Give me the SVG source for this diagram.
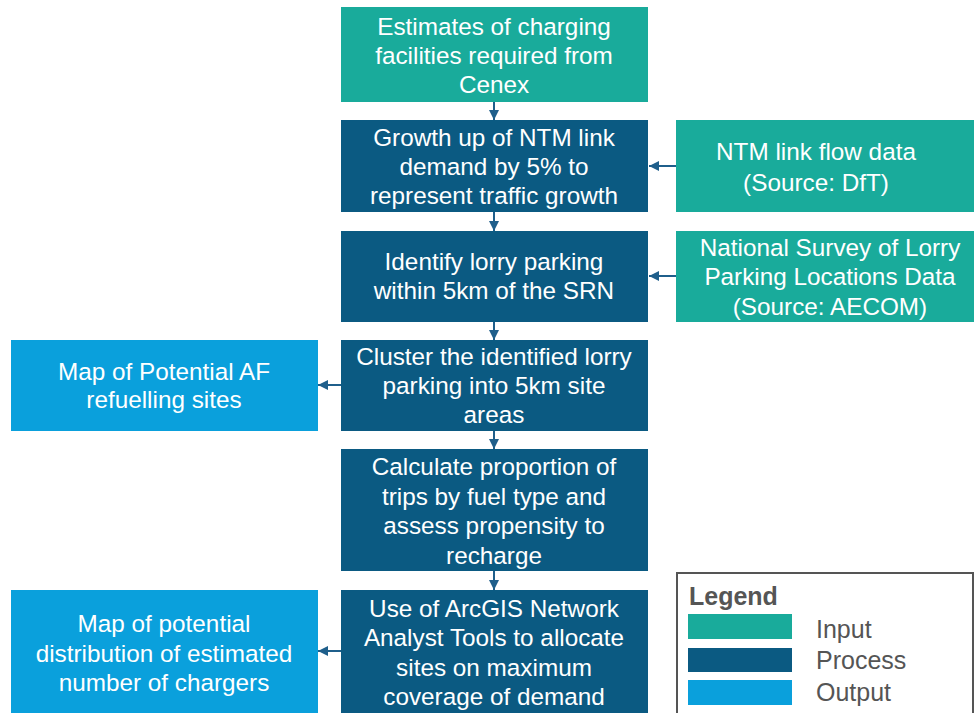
<svg xmlns="http://www.w3.org/2000/svg" width="974" height="713" viewBox="0 0 974 713">
<defs>
<style>
.in{fill:#19ab9b}
.pr{fill:#0b5a82}
.out{fill:#0aa0dc}
.t{font-family:"Liberation Sans",Arial,sans-serif;font-size:24.3px;fill:#ffffff;text-anchor:middle}
.c{stroke:#1f5f8b;stroke-width:2;fill:none;marker-end:url(#ah)}
.lt{font-family:"Liberation Sans",Arial,sans-serif;font-size:25px;fill:#555555}
</style>
<marker id="ah" viewBox="0 0 10 10" refX="10" refY="5" markerWidth="5" markerHeight="5" orient="auto" markerUnits="strokeWidth">
<path d="M0,0 L10,5 L0,10 z" fill="#1f5f8b"/>
</marker>
</defs>
<rect width="974" height="713" fill="#ffffff"/>
<g id="connectors">
<line class="c" x1="494" y1="102" x2="494" y2="120"/>
<line class="c" x1="494" y1="212" x2="494" y2="231"/>
<line class="c" x1="494" y1="322" x2="494" y2="340"/>
<line class="c" x1="494" y1="431" x2="494" y2="449"/>
<line class="c" x1="494" y1="571" x2="494" y2="590"/>
<line class="c" x1="676" y1="166" x2="649" y2="166"/>
<line class="c" x1="676" y1="276" x2="649" y2="276"/>
<line class="c" x1="341" y1="385" x2="318" y2="385"/>
<line class="c" x1="341" y1="651" x2="318" y2="651"/>
</g>
<g id="n1"><rect class="in" x="341" y="7" width="307" height="95"/>
<text class="t" x="494" y="35">Estimates of charging</text><text class="t" x="494" y="64">facilities required from</text><text class="t" x="494" y="93">Cenex</text></g>
<g id="n2"><rect class="pr" x="341" y="120" width="307" height="92"/>
<text class="t" x="494" y="146">Growth up of NTM link</text><text class="t" x="494" y="175">demand by 5% to</text><text class="t" x="494" y="204">represent traffic growth</text></g>
<g id="n3"><rect class="pr" x="341" y="231" width="307" height="91"/>
<text class="t" x="494" y="270">Identify lorry parking</text><text class="t" x="494" y="299">within 5km of the SRN</text></g>
<g id="n4"><rect class="pr" x="341" y="340" width="307" height="91"/>
<text class="t" x="494" y="365">Cluster the identified lorry</text><text class="t" x="494" y="394">parking into 5km site</text><text class="t" x="494" y="423">areas</text></g>
<g id="n5"><rect class="pr" x="341" y="449" width="307" height="122"/>
<text class="t" x="494" y="475">Calculate proportion of</text><text class="t" x="494" y="505">trips by fuel type and</text><text class="t" x="494" y="534">assess propensity to</text><text class="t" x="494" y="564">recharge</text></g>
<g id="n6"><rect class="pr" x="341" y="590" width="307" height="123"/>
<text class="t" x="494" y="617">Use of ArcGIS Network</text><text class="t" x="494" y="646">Analyst Tools to allocate</text><text class="t" x="494" y="676">sites on maximum</text><text class="t" x="494" y="705">coverage of demand</text></g>
<g id="n7"><rect class="in" x="676" y="120" width="298" height="92"/>
<text class="t" x="816" y="160">NTM link flow data</text><text class="t" x="816" y="191">(Source: DfT)</text></g>
<g id="n8"><rect class="in" x="676" y="231" width="298" height="91"/>
<text class="t" x="830" y="256">National Survey of Lorry</text><text class="t" x="830" y="285">Parking Locations Data</text><text class="t" x="830" y="315">(Source: AECOM)</text></g>
<g id="n9"><rect class="out" x="11" y="340" width="307" height="91"/>
<text class="t" x="164" y="380">Map of Potential AF</text><text class="t" x="164" y="408">refuelling sites</text></g>
<g id="n10"><rect class="out" x="11" y="590" width="307" height="123"/>
<text class="t" x="164" y="632">Map of potential</text><text class="t" x="164" y="662">distribution of estimated</text><text class="t" x="164" y="691">number of chargers</text></g>
<g id="legend">
<rect x="677" y="573" width="296" height="145" fill="#ffffff" stroke="#555555" stroke-width="2"/>
<text class="lt" x="689" y="605" font-weight="bold">Legend</text>
<rect class="in" x="688" y="614" width="104" height="25"/>
<rect class="pr" x="688" y="648" width="104" height="24"/>
<rect class="out" x="688" y="680" width="104" height="25"/>
<text class="lt" x="816" y="638">Input</text>
<text class="lt" x="816" y="669">Process</text>
<text class="lt" x="816" y="701">Output</text>
</g>
</svg>
